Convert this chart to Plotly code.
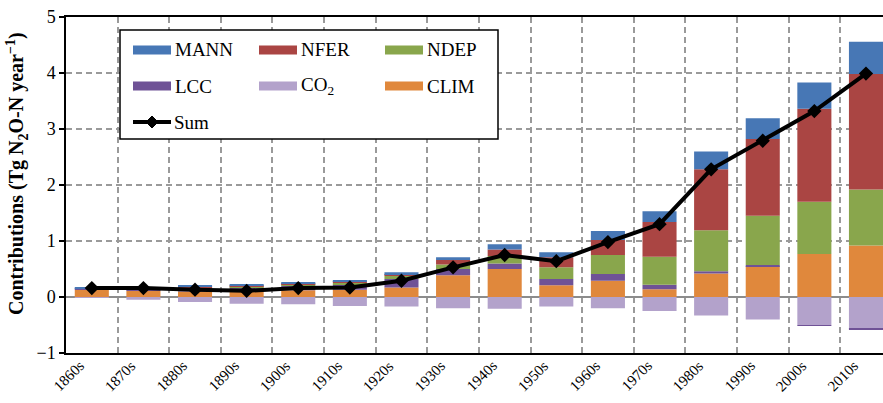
import plotly.graph_objects as go

decades = ["1860s", "1870s", "1880s", "1890s", "1900s", "1910s", "1920s", "1930s",
           "1940s", "1950s", "1960s", "1970s", "1980s", "1990s", "2000s", "2010s"]
clim = [0.13, 0.11, 0.10, 0.09, 0.12, 0.13, 0.17, 0.39, 0.50, 0.21, 0.29, 0.14, 0.42, 0.55, 0.77, 0.92]
lcc = [0.02, 0.02, 0.06, 0.08, 0.08, 0.09, 0.15, 0.11, 0.10, 0.11, 0.12, 0.08, 0.04, 0.02, -0.015, -0.015]
ndep = [0.0, 0.0, 0.01, 0.02, 0.03, 0.03, 0.06, 0.08, 0.13, 0.21, 0.34, 0.50, 0.73, 0.88, 0.93, 1.00]
nfer = [0.0, 0.0, 0.01, 0.01, 0.01, 0.02, 0.03, 0.08, 0.12, 0.18, 0.27, 0.62, 1.09, 1.37, 1.66, 2.06]
mann = [0.02, 0.02, 0.02, 0.02, 0.03, 0.03, 0.03, 0.05, 0.09, 0.09, 0.16, 0.19, 0.32, 0.37, 0.47, 0.58]
co2 = [-0.01, -0.05, -0.09, -0.12, -0.13, -0.16, -0.17, -0.20, -0.21, -0.17, -0.20, -0.25, -0.33, -0.40, -0.50, -0.57]
total = [0.16, 0.16, 0.13, 0.11, 0.16, 0.17, 0.29, 0.53, 0.75, 0.64, 0.98, 1.30, 2.28, 2.79, 3.32, 3.99]

colors = {
    "MANN": "#4777B5",
    "NFER": "#AA4543",
    "NDEP": "#89A64C",
    "LCC": "#6F5296",
    "CO2": "#B3A2CB",
    "CLIM": "#E0883C",
}

W, H = 883, 403
ML, MR, MT, MB = 66, 0, 17, 50
FONT = "Liberation Serif"

idx = list(range(len(decades)))
boundaries = [i - 0.5 for i in range(len(decades) + 1)]

fig = go.Figure()
# CO2 first so its negative part sits next to zero
for name, vals in [("CO2", co2), ("CLIM", clim), ("LCC", lcc), ("NDEP", ndep),
                   ("NFER", nfer), ("MANN", mann)]:
    fig.add_trace(go.Bar(x=idx, y=vals, name=name, marker_color=colors[name],
                         marker_line_width=0, showlegend=False))

fig.add_trace(go.Scatter(x=idx, y=total, name="Sum", mode="lines+markers",
                         line=dict(color="black", width=4),
                         marker=dict(symbol="diamond", size=11, color="black"),
                         showlegend=False))

# ---- legend drawn in pixel coordinates ----
pw = W - ML - MR
ph = H - MT - MB
def px(x):
    return (x - ML) / pw
def py(y):
    return (H - MB - y) / ph

shapes = []
annotations = []
shapes.append(dict(type="rect", xref="paper", yref="paper", x0=px(120), x1=px(498),
                   y0=py(139), y1=py(30), fillcolor="white",
                   line=dict(color="black", width=1.5), layer="above"))
legend_items = [("MANN", "MANN", 133, 50), ("NFER", "NFER", 259, 50), ("NDEP", "NDEP", 385, 50),
                ("LCC", "LCC", 133, 86), ("CO2", "CO<sub>2</sub>", 259, 86), ("CLIM", "CLIM", 385, 86)]
for key, label, sx, sy in legend_items:
    shapes.append(dict(type="rect", xref="paper", yref="paper", x0=px(sx), x1=px(sx + 38),
                       y0=py(sy + 4.5), y1=py(sy - 4.5), fillcolor=colors[key],
                       line=dict(width=0), layer="above"))
    annotations.append(dict(xref="paper", yref="paper", x=px(sx + 40), y=py(sy),
                            text=label, showarrow=False, xanchor="left", yanchor="middle",
                            font=dict(family=FONT, size=19, color="black")))
# Sum legend entry
shapes.append(dict(type="line", xref="paper", yref="paper", x0=px(133), x1=px(171),
                   y0=py(122), y1=py(122), line=dict(color="black", width=4), layer="above"))
cx, cy, r = 152, 122, 6
shapes.append(dict(type="path", xref="paper", yref="paper",
                   path=f"M{px(cx - r)},{py(cy)} L{px(cx)},{py(cy - r)} L{px(cx + r)},{py(cy)} L{px(cx)},{py(cy + r)} Z",
                   fillcolor="black", line=dict(color="black", width=1), layer="above"))
annotations.append(dict(xref="paper", yref="paper", x=px(172), y=py(122), text="Sum",
                        showarrow=False, xanchor="left", yanchor="middle",
                        font=dict(family=FONT, size=19, color="black")))
# y-axis title
annotations.append(dict(xref="paper", yref="paper", x=px(17), y=py(174),
                        text="<b>Contributions (Tg N<sub>2</sub>O-N year<sup>−1</sup>)</b>",
                        textangle=-90, showarrow=False, xanchor="center", yanchor="middle",
                        font=dict(family=FONT, size=20, color="black")))
# x tick labels, rotated 45 degrees
for i, lab in zip(idx, decades):
    annotations.append(dict(xref="x", yref="paper", x=i, y=py(376), xshift=-23,
                            text=lab, textangle=-45, showarrow=False,
                            xanchor="center", yanchor="middle",
                            font=dict(family=FONT, size=15, color="black")))

fig.update_layout(
    width=W, height=H,
    margin=dict(l=ML, r=MR, t=MT, b=MB, autoexpand=False),
    plot_bgcolor="white", paper_bgcolor="white",
    barmode="relative", bargap=0.34,
    font=dict(family=FONT, color="black"),
    shapes=shapes, annotations=annotations,
    showlegend=False,
)
fig.update_xaxes(
    type="linear", range=[-0.5, 15.33],
    tickmode="array", tickvals=idx, ticktext=[""] * len(idx),
    showgrid=False,
    minor=dict(tickmode="array", tickvals=boundaries, showgrid=True, gridcolor="#9a9a9a",
               griddash="6px,4px", gridwidth=1.5, ticks=""),
    showline=True, linecolor="black", linewidth=1.5, mirror=True, zeroline=False,
    ticks="", showticklabels=False,
    automargin=False,
)
fig.update_yaxes(
    range=[-1, 5], dtick=1, tick0=0,
    showgrid=True, gridcolor="#9a9a9a", griddash="6px,4px", gridwidth=1.5,
    zeroline=True, zerolinecolor="#8c8c8c", zerolinewidth=2,
    showline=True, linecolor="black", linewidth=1.5,
    ticks="outside", ticklen=5, tickcolor="black", tickwidth=1.5,
    tickfont=dict(family=FONT, size=18, color="black"),
    automargin=False,
)

fig.write_html("out.html", post_script="document.body.style.margin='0';",
               config={"displayModeBar": False})
